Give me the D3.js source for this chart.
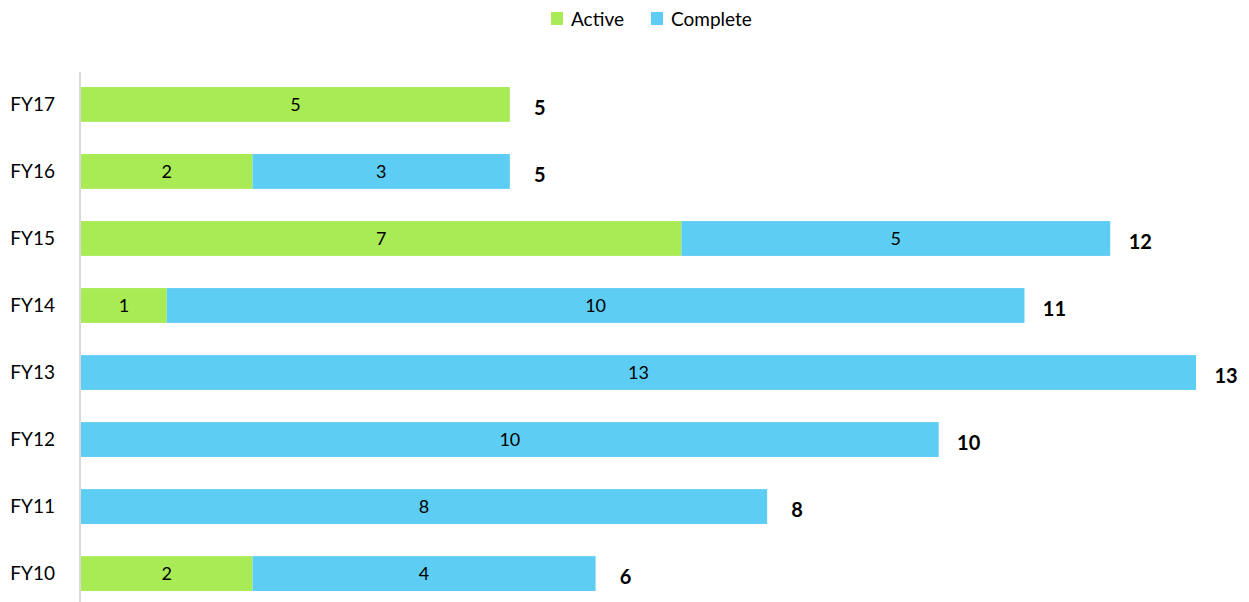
<!DOCTYPE html>
<meta charset="utf-8">
<style>
body { margin: 0; background: #fff; }
svg text { font-family: Lato, "Open Sans", sans-serif; fill: #000; }
.cat { font-size: 19px; }
.seg { font-size: 18px; }
.total { font-size: 20px; font-weight: bold; }
.legend text { font-size: 19px; }
</style>
<body>
<script src="https://cdn.jsdelivr.net/npm/d3@7"></script>
<script>

// values
var years = ["FY17", "FY16", "FY15", "FY14", "FY13", "FY12", "FY11", "FY10"];
var active = [5, 2, 7, 1, 0, 0, 0, 2];
var complete = [0, 3, 5, 10, 13, 10, 8, 4];
var seriesNames = ["Active", "Complete"];
var colors = ["#a9eb55", "#5ecdf3"];

var width = 1249, height = 602;
var margin = {top: 70, right: 53, bottom: 0, left: 81};

var svg = d3.select("body").append("svg")
  .attr("width", width)
  .attr("height", height);

var rows = years.map(function(y, i) {
  return {year: y, Active: active[i], Complete: complete[i], total: active[i] + complete[i]};
});

var x = d3.scaleLinear().domain([0, 13]).range([margin.left, width - margin.right]);
var y = d3.scaleBand().domain(years).range([margin.top, 608]).paddingInner(0.48).paddingOuter(0.254);

var stack = d3.stack().keys(seriesNames)(rows);

// bars
svg.selectAll("g.series")
  .data(stack)
  .enter().append("g")
    .attr("class", "series")
    .attr("fill", function(d, i) { return colors[i]; })
  .selectAll("rect")
    .data(function(d) { return d.filter(function(p) { return p[1] > p[0]; }); })
  .enter().append("rect")
    .attr("x", function(d) { return x(d[0]); })
    .attr("y", function(d) { return y(d.data.year); })
    .attr("width", function(d) { return x(d[1]) - x(d[0]); })
    .attr("height", y.bandwidth());

// segment labels
svg.selectAll("g.series").each(function(s) {
  d3.select(this).selectAll("text.seg")
    .data(s.filter(function(p) { return p[1] > p[0]; }))
    .enter().append("text")
      .attr("class", "seg")
      .attr("x", function(d) { return (x(d[0]) + x(d[1])) / 2; })
      .attr("y", function(d) { return y(d.data.year) + y.bandwidth() / 2; })
      .attr("dy", "0.36em")
      .attr("text-anchor", "middle")
      .text(function(d) { return d[1] - d[0]; });
});

// totals
svg.selectAll("text.total")
  .data(rows)
  .enter().append("text")
    .attr("class", "total")
    .attr("x", function(d) { return x(d.total) + 30; })
    .attr("y", function(d) { return y(d.year) + y.bandwidth() / 2 + 3; })
    .attr("dy", "0.36em")
    .attr("text-anchor", "middle")
    .text(function(d) { return d.total; });

// category axis
var yAxis = svg.append("g")
  .attr("transform", "translate(" + (margin.left - 1) + ",0)")
  .call(d3.axisLeft(y).tickSize(0).tickPadding(25));
yAxis.select(".domain").attr("stroke", "#d9d9d9").attr("stroke-width", 2)
  .attr("d", "M0," + 72 + "V" + height);
yAxis.selectAll("text").attr("class", "cat").attr("font-size", null).attr("font-family", null);

// legend
var legend = svg.append("g").attr("class", "legend");
var lx = [551, 651];
seriesNames.forEach(function(n, i) {
  legend.append("rect")
    .attr("x", lx[i]).attr("y", 12).attr("width", 12).attr("height", 13)
    .attr("fill", colors[i]);
  legend.append("text")
    .attr("x", lx[i] + 20).attr("y", 19).attr("dy", "0.36em")
    .text(n);
});

</script>
